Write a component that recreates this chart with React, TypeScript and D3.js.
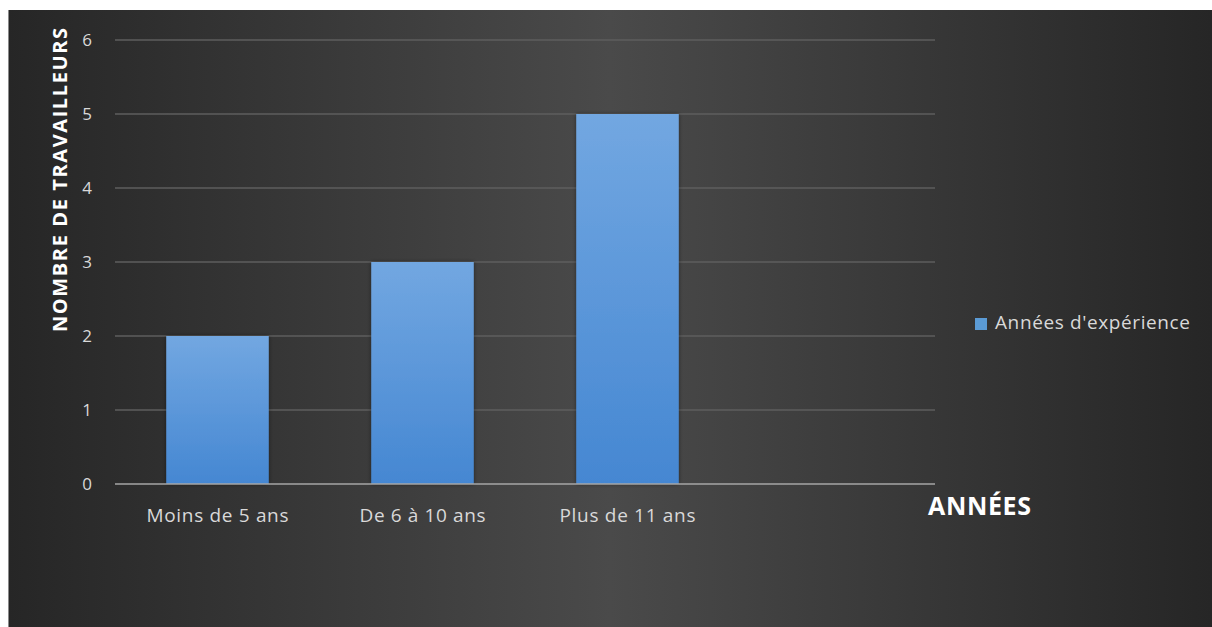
import React from "react";
import * as d3 from "d3";

// Workers by years of experience
const categories = ["Moins de 5 ans", "De 6 à 10 ans", "Plus de 11 ans", ""];
const workers = [2, 3, 5];
const yTicks = [0, 1, 2, 3, 4, 5, 6];
const seriesName = "Années d'expérience";
const yTitle = "NOMBRE DE TRAVAILLEURS";
const xTitle = "ANNÉES";

const W = 1212;
const H = 627;
const OX = 8;
const OY = 10;

export default function App() {
  const x = d3.scaleBand<string>().domain(categories).range([115, 935]).paddingInner(0.5).paddingOuter(0.25);
  const y = d3.scaleLinear().domain([0, 6]).range([484, 40]);
  const font = "'Open Sans', 'Noto Sans', sans-serif";
  const labelLens = [142, 126, 136];

  return (
    <svg
      width={W - OX}
      height={H - OY}
      style={{ position: "absolute", left: OX, top: OY, display: "block" }}
    >
      <defs>
        <linearGradient id="bg" x1="0" x2="1" y1="0" y2="0">
          <stop offset="0" stopColor="#262626" />
          <stop offset="0.5" stopColor="#4a4a4a" />
          <stop offset="1" stopColor="#262626" />
        </linearGradient>
        <linearGradient id="bar" x1="0" x2="0" y1="0" y2="1">
          <stop offset="0" stopColor="#72a7e1" />
          <stop offset="1" stopColor="#4587d2" />
        </linearGradient>
        <filter id="shadow" x="-10%" y="-10%" width="120%" height="120%">
          <feDropShadow dx="0" dy="0" stdDeviation="2" floodColor="#000" floodOpacity="0.45" />
        </filter>
      </defs>
      <g transform={`translate(${-OX},${-OY})`}>
        <rect x={OX} y={OY} width={W - OX} height={H - OY} fill="url(#bg)" />
        <line x1={OX + 0.5} x2={OX + 0.5} y1={OY} y2={H} stroke="#8a8a8a" strokeWidth={1} />

        {yTicks.map((t) => (
          <g key={t}>
            {t > 0 && (
              <line x1={115} x2={935} y1={y(t)} y2={y(t)} stroke="#5e5e5e" strokeWidth={1.5} />
            )}
            <text
              x={92}
              y={y(t)}
              dy="0.36em"
              textAnchor="end"
              fontFamily={font}
              fontSize={17}
              fill="#d9d9d9"
            >
              {t}
            </text>
          </g>
        ))}

        {workers.map((v, i) => (
          <rect
            key={categories[i]}
            x={x(categories[i])}
            y={y(v)}
            width={x.bandwidth()}
            height={y(0) - y(v)}
            fill="url(#bar)"
            filter="url(#shadow)"
          />
        ))}

        <line x1={115} x2={935} y1={y(0)} y2={y(0)} stroke="#a6a6a6" strokeWidth={1.5} />

        {categories.map((c, i) =>
          c ? (
            <text
              key={c}
              x={(x(c) as number) + x.bandwidth() / 2}
              y={522}
              textAnchor="middle"
              fontFamily={font}
              fontSize={19}
              fill="#d9d9d9"
              textLength={labelLens[i]}
            >
              {c}
            </text>
          ) : null
        )}

        <text
          transform={`translate(67,180) rotate(-90)`}
          textAnchor="middle"
          fontFamily={font}
          fontWeight="bold"
          fontSize={20}
          fill="#ffffff"
          textLength={304}
        >
          {yTitle}
        </text>

        <text
          x={928}
          y={515}
          fontFamily={font}
          fontWeight="bold"
          fontSize={25}
          fill="#ffffff"
          textLength={103}
        >
          {xTitle}
        </text>

        <rect x={975} y={318} width={12} height={12} fill="#5b9bd5" />
        <text
          x={995}
          y={329}
          fontFamily={font}
          fontSize={19}
          fill="#d9d9d9"
          textLength={195}
        >
          {seriesName}
        </text>
      </g>
    </svg>
  );
}
